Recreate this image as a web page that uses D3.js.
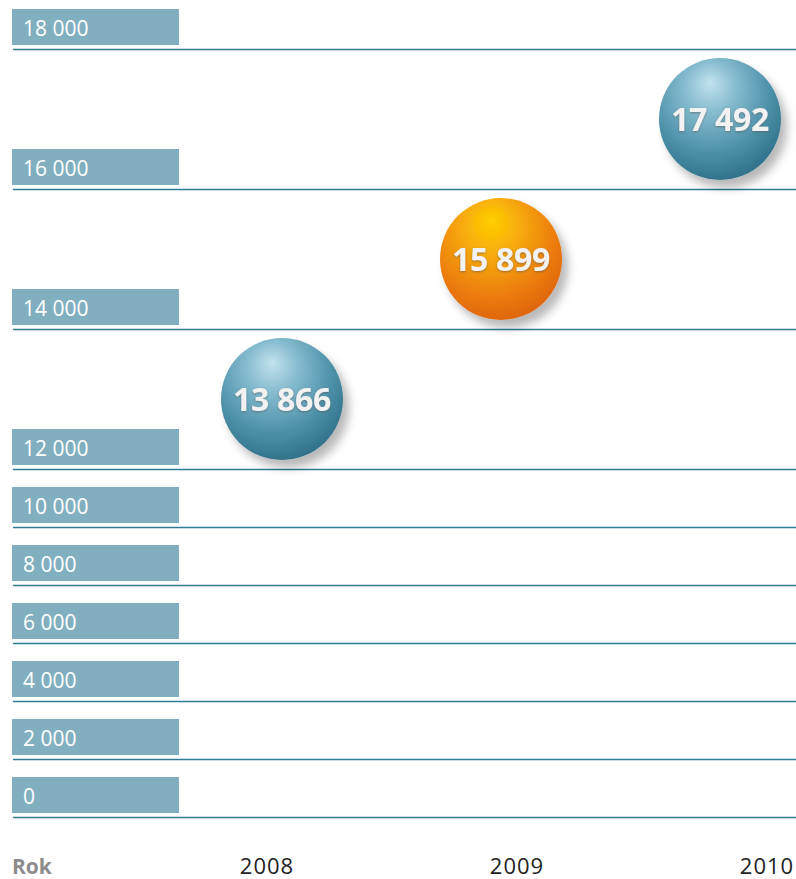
<!DOCTYPE html>
<html>
<head>
<meta charset="utf-8">
<script src="https://cdn.jsdelivr.net/npm/d3@7"></script>
<style>
  body { margin: 0; background: #fff; }
  svg { display: block; }
</style>
</head>
<body>
<svg id="chart" width="796" height="879"></svg>
<script>
const years = ["2008", "2009", "2010"];
const values = [13866, 15899, 17492];
const highlight = ["2009"];
const yTicks = [0, 2000, 4000, 6000, 8000, 10000, 12000, 14000, 16000, 18000];
const axisTitle = "Rok";

const svg = d3.select("#chart");
const fmt = (v) => d3.format(",")(v).replace(/,/g, " ");

// broken scale: lower part compressed, upper part stretched
const y = d3.scaleLinear().domain([0, 12000, 18000]).range([817, 469, 49]);
const xLabel = d3.scalePoint().domain(years).range([267, 767]);
const xBall = d3.scalePoint().domain(years).range([282, 720]);

const defs = svg.append("defs");

const blue = defs.append("radialGradient").attr("id", "ballBlue")
  .attr("cx", "42%").attr("cy", "32%").attr("r", "70%").attr("fx", "42%").attr("fy", "20%");
[[0, "#c2e2ee"], [0.3, "#86bccf"], [0.7, "#4d91a9"], [1, "#2f7189"]].forEach(([o, c]) =>
  blue.append("stop").attr("offset", o).attr("stop-color", c));

const orange = defs.append("radialGradient").attr("id", "ballOrange")
  .attr("cx", "42%").attr("cy", "32%").attr("r", "70%").attr("fx", "42%").attr("fy", "18%");
[[0, "#ffcf00"], [0.35, "#f7aa0b"], [0.75, "#ec7c10"], [1, "#de650f"]].forEach(([o, c]) =>
  orange.append("stop").attr("offset", o).attr("stop-color", c));

const shadow = defs.append("filter").attr("id", "ballShadow")
  .attr("x", "-30%").attr("y", "-30%").attr("width", "170%").attr("height", "170%");
shadow.append("feDropShadow").attr("dx", 6).attr("dy", 8).attr("stdDeviation", 5)
  .attr("flood-color", "#000").attr("flood-opacity", 0.28);

const textShadow = defs.append("filter").attr("id", "textShadow")
  .attr("x", "-20%").attr("y", "-30%").attr("width", "140%").attr("height", "160%");
textShadow.append("feDropShadow").attr("dx", 0).attr("dy", 1).attr("stdDeviation", 1)
  .attr("flood-color", "#555").attr("flood-opacity", 0.6);

// grid lines
svg.append("g").selectAll("line")
  .data(yTicks)
  .enter()
  .append("line")
  .attr("x1", 13).attr("x2", 796)
  .attr("y1", (d) => y(d) + 0.5).attr("y2", (d) => y(d) + 0.5)
  .attr("stroke", "#307b95").attr("stroke-width", 1.4);

// tick label boxes
const ticks = svg.append("g").selectAll("g")
  .data(yTicks)
  .enter()
  .append("g");

ticks.append("rect")
  .attr("x", 12).attr("y", (d) => y(d) - 40)
  .attr("width", 167).attr("height", 36)
  .attr("fill", "#82afc0");

ticks.append("text")
  .attr("x", 23).attr("y", (d) => y(d) - 13)
  .attr("fill", "#fff")
  .style("font-family", "'Open Sans', sans-serif")
  .style("font-size", "21px")
  .text((d) => fmt(d));

// balls, centred in the 2000-band that holds the value
const data = years.map((year, i) => ({ year, value: values[i] }));
const bandMid = (v) => y(Math.floor(v / 2000) * 2000 + 1000);

const balls = svg.append("g").selectAll("g")
  .data(data)
  .enter()
  .append("g")
  .attr("transform", (d) => `translate(${xBall(d.year)},${bandMid(d.value)})`);

balls.append("circle")
  .attr("r", 61)
  .attr("fill", (d) => highlight.includes(d.year) ? "url(#ballOrange)" : "url(#ballBlue)")
  .attr("filter", "url(#ballShadow)");

balls.append("text")
  .attr("text-anchor", "middle")
  .attr("dy", "0.36em")
  .attr("fill", "#f2f2f2")
  .attr("filter", "url(#textShadow)")
  .style("font-family", "'Open Sans', sans-serif")
  .style("font-weight", 700)
  .style("font-size", "32px")
  .style("letter-spacing", "-0.3px")
  .text((d) => fmt(d.value));

// x labels
svg.append("text")
  .attr("x", 12).attr("y", 874)
  .attr("fill", "#8c8c8c")
  .style("font-family", "'Open Sans', sans-serif")
  .style("font-weight", 700)
  .style("font-size", "21px")
  .text(axisTitle);

svg.append("g").selectAll("text")
  .data(years)
  .enter()
  .append("text")
  .attr("x", (d) => xLabel(d)).attr("y", 874)
  .attr("text-anchor", "middle")
  .attr("fill", "#222")
  .style("font-family", "'Open Sans', sans-serif")
  .style("font-size", "22px")
  .style("letter-spacing", "1px")
  .text((d) => d);
</script>
</body>
</html>
